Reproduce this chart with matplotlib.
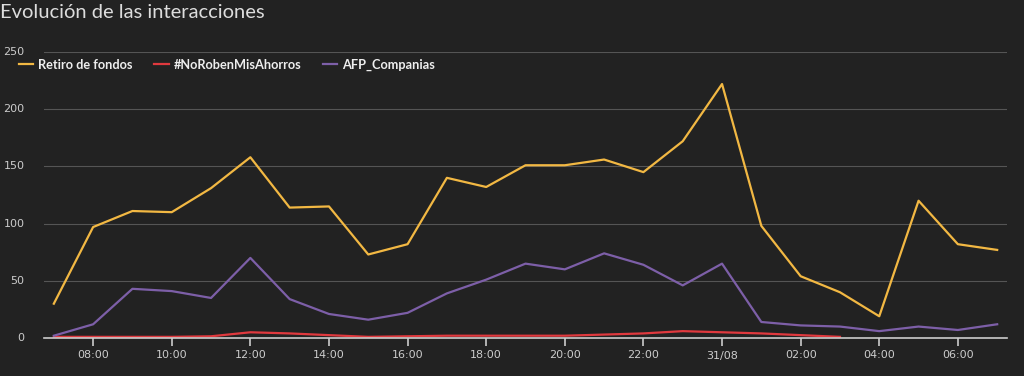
import matplotlib
matplotlib.use("Agg")
import matplotlib.pyplot as plt
import matplotlib.dates as mdates
import pandas as pd

hours = pd.date_range("2020-08-30 07:00", "2020-08-31 07:00", freq="h")

retiro = [30, 97, 111, 110, 131, 158, 114, 115, 73, 82, 140, 132, 151, 151, 156,
          145, 172, 222, 98, 54, 40, 19, 120, 82, 77]
noroben = [1, 1, 1, 1, 1.5, 5, 4, 2.5, 1, 1.5, 2, 2, 2, 2, 3, 4, 6, 5, 4, 2.5, 1]
afp = [2, 12, 43, 41, 35, 70, 34, 21, 16, 22, 39, 51, 65, 60, 74, 64, 46, 65,
       14, 11, 10, 6, 10, 7, 12]

series_names = ["Retiro de fondos", "#NoRobenMisAhorros", "AFP_Companias"]
colors = ["#f2b843", "#e0393e", "#7d5fa8"]
yticks = [0, 50, 100, 150, 200, 250]

bg = "#222222"
fig = plt.figure(figsize=(10.24, 3.76), dpi=100, facecolor=bg)
ax = fig.add_axes([44/1024, 38/376, 963/1024, 286/376], facecolor=bg)

ax.plot(hours, retiro, color=colors[0], lw=1.6, label=series_names[0])
ax.plot(hours[:len(noroben)], noroben, color=colors[1], lw=1.6, label=series_names[1])
ax.plot(hours, afp, color=colors[2], lw=1.6, label=series_names[2])

ax.set_ylim(0, 250)
ax.set_yticks(yticks)
pad = pd.Timedelta(minutes=15)
ax.set_xlim(hours[0] - pad, hours[-1] + pad)

ax.xaxis.set_major_locator(mdates.HourLocator(byhour=range(0, 24, 2)))
def fmt(x, pos=None):
    d = mdates.num2date(x)
    if d.hour == 0 and d.minute == 0:
        return d.strftime("%d/%m")
    return d.strftime("%H:%M")
ax.xaxis.set_major_formatter(plt.FuncFormatter(fmt))

for s in ["top", "right", "left"]:
    ax.spines[s].set_visible(False)
ax.spines["bottom"].set_color("#cccccc")
ax.spines["bottom"].set_linewidth(1.2)
ax.grid(axis="y", color="#555555", lw=0.8)
ax.set_axisbelow(True)
ax.tick_params(axis="y", length=0, colors="#cccccc", labelsize=8, pad=14)
ax.tick_params(axis="x", length=6, width=1.2, color="#cccccc", colors="#cccccc",
               labelsize=8, direction="out", pad=3)
for lab in ax.get_yticklabels():
    lab.set_verticalalignment("center")

fig.text(0.0, 0.99, "Evolución de las interacciones", color="#dddddd",
         fontsize=14.5, family="Lato", va="top", ha="left")

leg = fig.legend(loc="upper left", bbox_to_anchor=(0.007, 0.875), ncol=3,
                 frameon=False, handlelength=1.15, handletextpad=0.4,
                 columnspacing=1.65, prop={"family": "Lato", "weight": "bold", "size": 9.2})
for t in leg.get_texts():
    t.set_color("#eeeeee")

fig.savefig("out.png", dpi=100, facecolor=bg)
